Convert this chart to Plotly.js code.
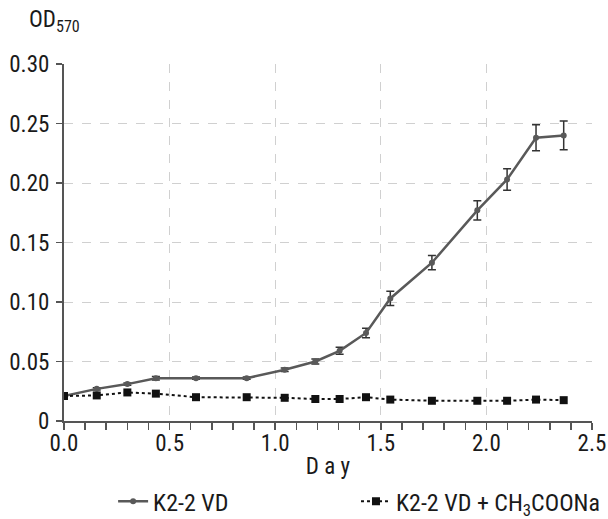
<!DOCTYPE html>
<html><head><meta charset="utf-8">
<script src="https://cdn.plot.ly/plotly-3.0.1.min.js"></script>
<style>body{margin:0;background:#fff}#c{width:608px;height:519px}</style>
</head><body><div id="c"></div>
<script>
const days = [0, 0.155, 0.30, 0.435, 0.625, 0.865, 1.045, 1.19, 1.305, 1.43, 1.545, 1.742, 1.957, 2.098, 2.235, 2.366];
const vd = [0.021, 0.027, 0.031, 0.036, 0.036, 0.036, 0.043, 0.050, 0.059, 0.074, 0.103, 0.133, 0.177, 0.203, 0.238, 0.240];
const vdErr = [0.001, 0.001, 0.001, 0.0015, 0.001, 0.001, 0.0015, 0.002, 0.003, 0.004, 0.006, 0.006, 0.008, 0.009, 0.011, 0.012];
const vdNa = [0.021, 0.0215, 0.024, 0.023, 0.020, 0.020, 0.0195, 0.0185, 0.0185, 0.020, 0.018, 0.017, 0.017, 0.017, 0.018, 0.0175];
const yTickVals = [0, 0.05, 0.10, 0.15, 0.20, 0.25, 0.30];
const yTickText = ['0', '0.05', '0.10', '0.15', '0.20', '0.25', '0.30'];
const xTickVals = [0, 0.5, 1.0, 1.5, 2.0, 2.5];
const xTickText = ['0.0', '0.5', '1.0', '1.5', '2.0', '2.5'];
const names = ['K2-2 VD', 'K2-2 VD + CH<sub>3</sub>COONa'];

const F = '"Liberation Sans Narrow", "Roboto Condensed", "DejaVu Sans Condensed", sans-serif';
const traces = [
  {x: days, y: vd, name: names[0], type: 'scatter', mode: 'lines+markers', legend: 'legend',
   line: {color: '#595959', width: 2.5}, marker: {symbol: 'circle', size: 6, color: '#595959'},
   error_y: {type: 'data', array: vdErr, visible: true, color: '#333333', thickness: 1.5, width: 4}},
  {x: days, y: vdNa, name: names[1], type: 'scatter', mode: 'lines+markers', legend: 'legend2',
   line: {color: '#111111', width: 2, dash: 'dot'}, marker: {symbol: 'square', size: 8, color: '#111111'}}
];
const legStyle = (x) => ({orientation: 'h', x: x, xanchor: 'left', y: -0.226, yanchor: 'middle',
  font: {size: 24}, bgcolor: 'rgba(0,0,0,0)', borderwidth: 0});
const layout = {
  width: 608, height: 519,
  margin: {l: 64, r: 16, t: 64, b: 98, autoexpand: false},
  paper_bgcolor: '#fff', plot_bgcolor: '#fff',
  font: {family: F, size: 23, color: '#1a1a1a'},
  showlegend: true,
  legend: legStyle(0.093),
  legend2: legStyle(0.553),
  xaxis: {range: [0, 2.5], tickvals: xTickVals, ticktext: xTickText, showgrid: true,
          gridcolor: '#d0d0d0', griddash: 'dash', gridwidth: 1, automargin: false,
          showline: true, linecolor: '#555', linewidth: 2, ticks: '', zeroline: false,
          minor: {dtick: 0.1, ticks: 'outside', ticklen: 7, tickcolor: '#555', tickwidth: 1.5, showgrid: false},
          title: {text: 'D a y', font: {size: 23}, standoff: 2}},
  yaxis: {range: [0, 0.30], tickvals: yTickVals, ticktext: yTickText, showgrid: true,
          gridcolor: '#d0d0d0', griddash: 'dash', gridwidth: 1, automargin: false,
          showline: true, linecolor: '#555', linewidth: 2, ticks: 'outside', ticklen: 6,
          tickcolor: '#555', tickwidth: 1.5, zeroline: false, ticklabelstandoff: 2},
  annotations: [{text: 'OD<sub>570</sub>', xref: 'paper', yref: 'paper', x: -0.018, y: 1.073,
                 xanchor: 'center', yanchor: 'bottom', showarrow: false, font: {size: 23}}]
};
Plotly.newPlot('c', traces, layout, {staticPlot: true});
</script></body></html>
